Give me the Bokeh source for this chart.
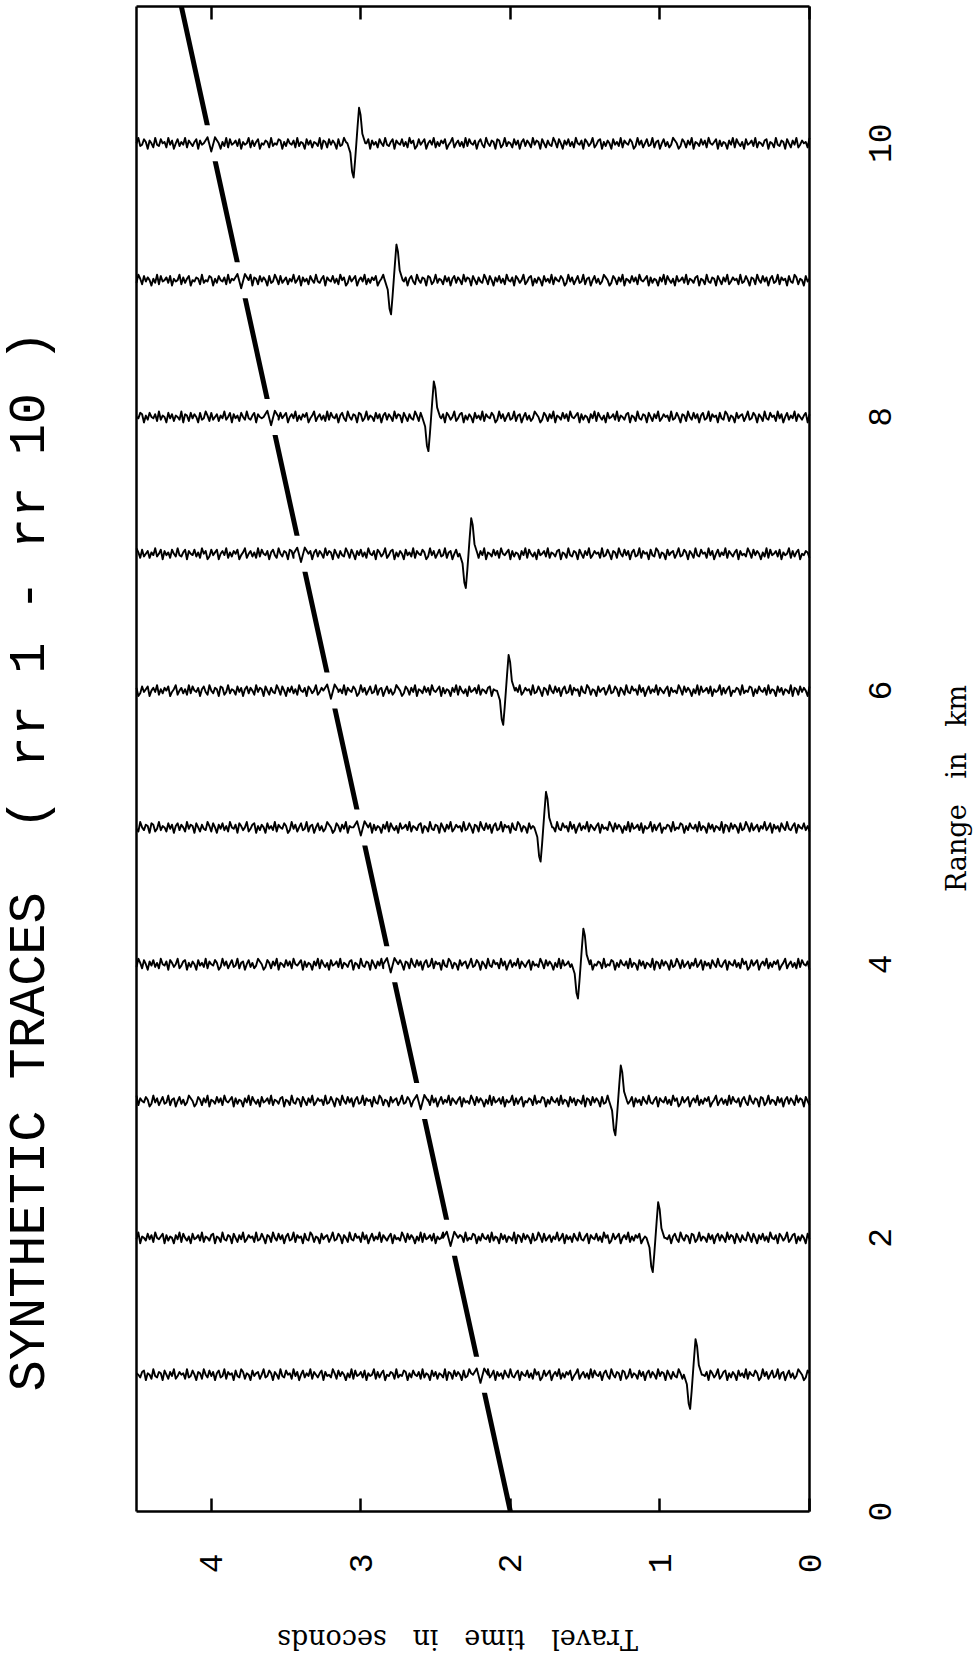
import numpy as np
from bokeh.plotting import figure
from bokeh.models import Range1d, LinearAxis, FixedTicker
from bokeh.core.properties import value
from bokeh.embed import file_html
from bokeh.resources import INLINE

# ---------------- data ----------------
trace_range_km = [1, 2, 3, 4, 5, 6, 7, 8, 9, 10]
arrival_time_s = [0.78, 1.03, 1.28, 1.53, 1.78, 2.03, 2.28, 2.53, 2.78, 3.03]
weak_arrival_time_s = [2.2, 2.4, 2.6, 2.8, 3.0, 3.2, 3.4, 3.6, 3.8, 4.0]

line_range_km = [0, 11]
line_time_s = [2.0, 4.2]

wavelet_dt_s = [-0.06, -0.04, -0.028, -0.018, -0.008, 0.0, 0.008, 0.018, 0.028, 0.04, 0.06]
wavelet_amp_km = [0.0, 0.07, 0.21, 0.26, 0.12, 0.0, -0.12, -0.25, -0.21, -0.07, 0.0]
weak_dt_s = [-0.05, -0.025, 0.0, 0.025, 0.05]
weak_amp_km = [0.0, 0.045, -0.06, 0.045, 0.0]

noise_cm = [
    1, 3, -2, -4, 0, 2, 4, -1, -3, 1, -2, 3, 0, -4, 2, 1, -3, 4, -1, -2,
    3, 0, -3, 2, -1, 4, -2, -4, 1, 3, -1, 0, 2, -3, 4, -2, 1, -1, 3, -4,
    0, 2, -2, 1, -4, 3, 2, -1, -3, 4, 0, -2, 1, 3, -4, 2, -1, 0, 4, -3,
    1, -2, 3, -1, 2, -4, 0, 3, -3, 1, 4, -2, -1, 2, -3, 0, 3, -4, 1, 2,
    -1, 4, -3, 0, 2, -2, 3, 1, -4, 2, -1, 3, -3, 0, 1, -2, 4, -1, -3, 2,
    3, -4, 1, 2, -2, 0, 4, -3, -1, 3, 1, -4, 2, -1, 0, 3, -2, 4, -3, 1,
    -2, 2, 0, -3, 4, 1, -1, -4, 3, 0, 2, -2, 1, -3, 4, -1, 2, 0, -4, 3,
    1, -1, 3, -2, -4, 2, 0, 4, -3, 1, -2, 3, -1, 0, 2, -4, 3, 1, -2, -1,
    4, -2, 0, 3, -3, 1, -1, 2, -4, 3, 0, -2, 4, -1, 1, -3, 2, 0, -2, 3,
    -3, 1, 4, -1, -2, 3, -4, 0, 2, -1, 3, -3, 1, 2, -4, 4, -2, 0, 1, -3,
    2, -1, 3, -4, 0, 1, -2, 4, -3, 2, -1, 0, 3, -2, 1, -4, 2, 3, -1, 0,
    -2, 4, -3, 1, 2, -1, 0, -4, 3, 1, -2, 2, -3, 4, 0, -1, 1, -4, 3, -2,
    2, 0, -1, 3, -3, 4, -2, 1, -4, 0, 2, -1, 3, -3, 1, 4, -2, 0, -1, 2,
    -4, 3, 1, -2, 0, 2, -3, 4, -1, 1, -2, 3, 0, -4, 2, -1, 4, -3, 1, 0,
    3, -2, -1, 4, -3, 0, 2, -4, 1, 3, -1, -2, 4, 0, -3, 2, 1, -1, 3, -4,
    0, 1, -3, 2, 4, -2, -1, 3, -4, 1, 0, 2, -3, 4, -1, -2, 3, 1, -4, 2,
    -1, 3, -2, 0, 4, -3, 1, 2, -4, 0, 3, -1, -2, 4, -3, 1, 0, 2, -1, -3,
    4, -1, 2, -3, 0, 3, -4, 1, 2, -2, -1, 4, -3, 0, 1, -4, 3, 2, -2, 0,
    1, -3, 4, -2, 2, 0, -1, 3, -4, 1, -2, 0, 3, -3, 4, -1, 2, -4, 0, 1,
    -2, 2, -4, 3, 1, -1, 0, 4, -3, 2, -1, 3, -2, 0, 1, -4, 4, -1, 2, -3,
]

time_ticks = [0, 1, 2, 3, 4]
range_ticks = [0, 2, 4, 6, 8, 10]
range_tick_labels = ["0", "2", "4", "6", "8", "10"]

title_text = "SYNTHETIC TRACES\u00a0\u00a0( rr 1 - rr 10 )"
xlabel_text = "Travel\u00a0\u00a0 time\u00a0\u00a0 in\u00a0\u00a0 seconds"
ylabel_text = "Range\u00a0\u00a0 in\u00a0\u00a0 km"

# ---------------- page geometry (pixels) ----------------
W, H = 973, 1658
FRAME_L, FRAME_R, FRAME_T, FRAME_B = 136, 809, 6, 1511
T_MAX = 4.5
R_MAX = 11
PX_PER_S = (FRAME_R - FRAME_L) / T_MAX
PX_PER_KM = (FRAME_B - FRAME_T) / R_MAX


def t_at(px):
    return (FRAME_R - px) / PX_PER_S


def r_at(py):
    return (FRAME_B - py) / PX_PER_KM


p = figure(width=W, height=H,
           x_range=Range1d(t_at(0), t_at(W)), y_range=Range1d(r_at(H), r_at(0)),
           output_backend="svg", toolbar_location=None,
           x_axis_location=None, y_axis_location=None, min_border=0)
for g in p.grid:
    g.visible = False
p.outline_line_color = None
p.background_fill_color = "white"
p.border_fill_color = "white"

tick_font = "Liberation Mono"
label_font = "DejaVu Serif"
LW = 2.5

bottom = LinearAxis(fixed_location=0, bounds=(0, T_MAX),
                    ticker=FixedTicker(ticks=time_ticks),
                    major_tick_in=13, major_tick_out=0, major_tick_line_width=LW,
                    minor_tick_line_color=None, axis_line_width=LW,
                    major_label_orientation=np.pi / 2, major_label_standoff=42,
                    major_label_text_font=tick_font,
                    major_label_text_font_size="33px",
                    major_label_text_color="black")
p.add_layout(bottom, "below")

top = LinearAxis(fixed_location=R_MAX, bounds=(0, T_MAX),
                 ticker=FixedTicker(ticks=time_ticks),
                 major_tick_in=13, major_tick_out=0, major_tick_line_width=LW,
                 minor_tick_line_color=None, axis_line_width=LW,
                 major_label_standoff=0,
                 major_label_overrides={v: "" for v in time_ticks},
                 major_label_text_font_size="0px")
p.add_layout(top, "above")

left = LinearAxis(fixed_location=T_MAX, bounds=(0, R_MAX),
                  ticker=FixedTicker(ticks=[]), axis_line_width=LW,
                  major_tick_in=0, major_tick_out=0, minor_tick_line_color=None)
p.add_layout(left, "left")

right = LinearAxis(fixed_location=0, bounds=(0, R_MAX),
                   ticker=FixedTicker(ticks=[]), axis_line_width=LW,
                   major_tick_in=0, major_tick_out=0, minor_tick_line_color=None)
p.add_layout(right, "right")

# ---------------- arrival line (broken around traces) ----------------
p.line(line_time_s, line_range_km, line_color="black", line_width=5)
p.segment(x0=T_MAX, x1=0, y0=trace_range_km, y1=trace_range_km,
          line_color="white", line_width=36)

# ---------------- traces ----------------
t_grid = np.round(np.arange(0, T_MAX + 1e-9, 0.0125), 5)
noise = np.array(noise_cm) / 100.0
xs, ys = [], []
for k, (r, ta, tw) in enumerate(zip(trace_range_km, arrival_time_s, weak_arrival_time_s)):
    idx = (np.arange(len(t_grid)) + 37 * k) % len(noise)
    n = noise[idx]
    keep = (np.abs(t_grid - ta) > 0.06) & (np.abs(t_grid - tw) > 0.05)
    tt = np.concatenate([t_grid[keep], ta + np.array(wavelet_dt_s), tw + np.array(weak_dt_s)])
    vv = np.concatenate([n[keep], np.array(wavelet_amp_km), np.array(weak_amp_km)])
    order = np.argsort(tt)
    xs.append(list(tt[order]))
    ys.append(list(r + vv[order]))
p.multi_line(xs, ys, line_color="black", line_width=1.9, line_join="round")

# ---------------- texts ----------------
# range tick labels (read bottom-to-top, centred on their ticks)
p.text(x=[t_at(879)] * len(range_ticks), y=range_ticks, text=range_tick_labels,
       angle=np.pi / 2, text_align="center", text_baseline="middle",
       text_font=value(tick_font), text_font_size=value("33px"),
       text_color="black")

# main title along the left side
p.text(x=[t_at(30)], y=[r_at(1391)], text=[title_text],
       angle=np.pi / 2, text_align="left", text_baseline="middle",
       text_font=value("Liberation Mono"), text_font_size=value("52px"),
       text_color="black")

# range axis title on the right
p.text(x=[t_at(956)], y=[r_at(788)], text=[ylabel_text],
       angle=np.pi / 2, text_align="center", text_baseline="middle",
       text_font=value(label_font), text_font_size=value("27px"),
       text_color="black")

# travel time axis title at the bottom (upside down, as on the page)
p.text(x=[t_at(457)], y=[r_at(1639)], text=[xlabel_text],
       angle=np.pi, text_align="center", text_baseline="middle",
       text_font=value(label_font), text_font_size=value("27px"),
       text_color="black")

open("out.html", "w").write(file_html(p, INLINE))
